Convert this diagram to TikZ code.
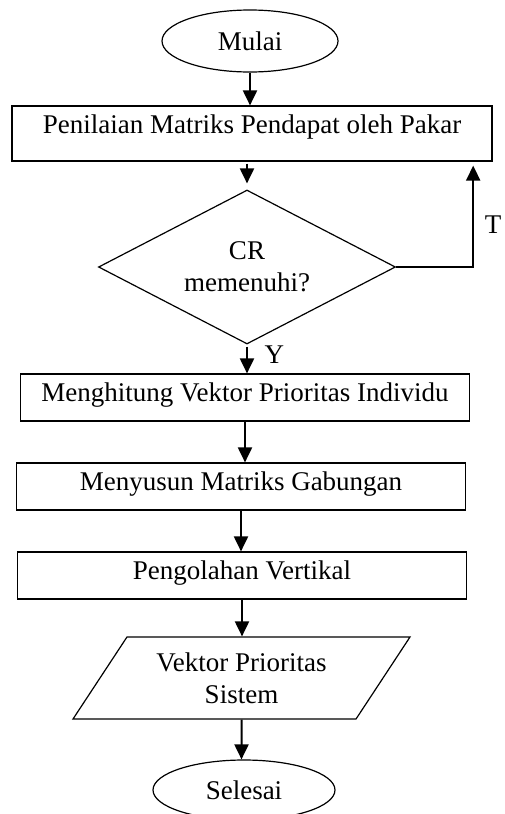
\documentclass[tikz,border=0pt]{standalone}
\usepackage{fontspec}
\setmainfont{Liberation Serif}
\usetikzlibrary{shapes.geometric,arrows.meta}
\tikzset{
  proses/.style={draw, line width=0.6pt, rectangle, inner ysep=3.5pt, text height=10pt, text depth=6.5pt, minimum width=224.4pt},
  terminal/.style={draw, line width=0.6pt, ellipse, inner sep=0pt, minimum width=88pt, minimum height=31pt},
  keputusan/.style={draw, line width=0.6pt, diamond, aspect=2, inner sep=0pt, align=center, minimum width=148.5pt, minimum height=77pt},
  data/.style={draw, line width=0.6pt, trapezium, trapezium left angle=50, trapezium right angle=130, trapezium stretches body, align=center, minimum width=168.5pt, minimum height=41pt},
  panah/.style={-{Triangle[length=7.5pt,width=7pt]}, line width=1pt}
}
\begin{document}
\begin{tikzpicture}[x=0.5pt, y=-0.5pt, font=\fontsize{13.5}{16}\selectfont]
\useasboundingbox (0,0) rectangle (504,814);
% langkah-langkah
\node[terminal] (mulai) at (250,41) {Mulai};
\node[proses, minimum width=240pt, text depth=10.5pt] (nilai) at (252,133.5) {Penilaian Matriks Pendapat oleh Pakar};
\node[keputusan] (cr) at (247,267) {CR\\memenuhi?};
\node[proses] (vektor) at (245,397.5) {Menghitung Vektor Prioritas Individu};
\node[proses] (gabung) at (241,486.5) {Menyusun Matriks Gabungan};
\node[proses] (vertikal) at (242,575.5) {Pengolahan Vertikal};
\node[data] (sistem) at (241.5,678) {Vektor Prioritas\\Sistem};
\node[terminal, minimum width=91pt, minimum height=30pt] (selesai) at (244,790) {Selesai};
% panah
\draw[panah] (mulai) -- (mulai |- nilai.north);
\draw[panah, shorten <=1pt, shorten >=3pt] (cr.north |- nilai.south) -- (cr.north);
\draw[panah, shorten <=1pt] (cr.south) -- (cr.south |- vektor.north) node[pos=0.35, right=5pt] {Y};
\draw[panah] (vektor) -- (vektor |- gabung.north);
\draw[panah] (gabung) -- (gabung |- vertikal.north);
\draw[panah] (vertikal) -- (vertikal |- sistem.north);
\draw[panah] (sistem) -- (sistem |- selesai.north);
% kembali jika CR tidak memenuhi
\draw[panah, shorten >=2pt] (cr.east) -| ([xshift=-9.7pt]nilai.south east) node[pos=0.7, right=2pt] {T};
\end{tikzpicture}
\end{document}
